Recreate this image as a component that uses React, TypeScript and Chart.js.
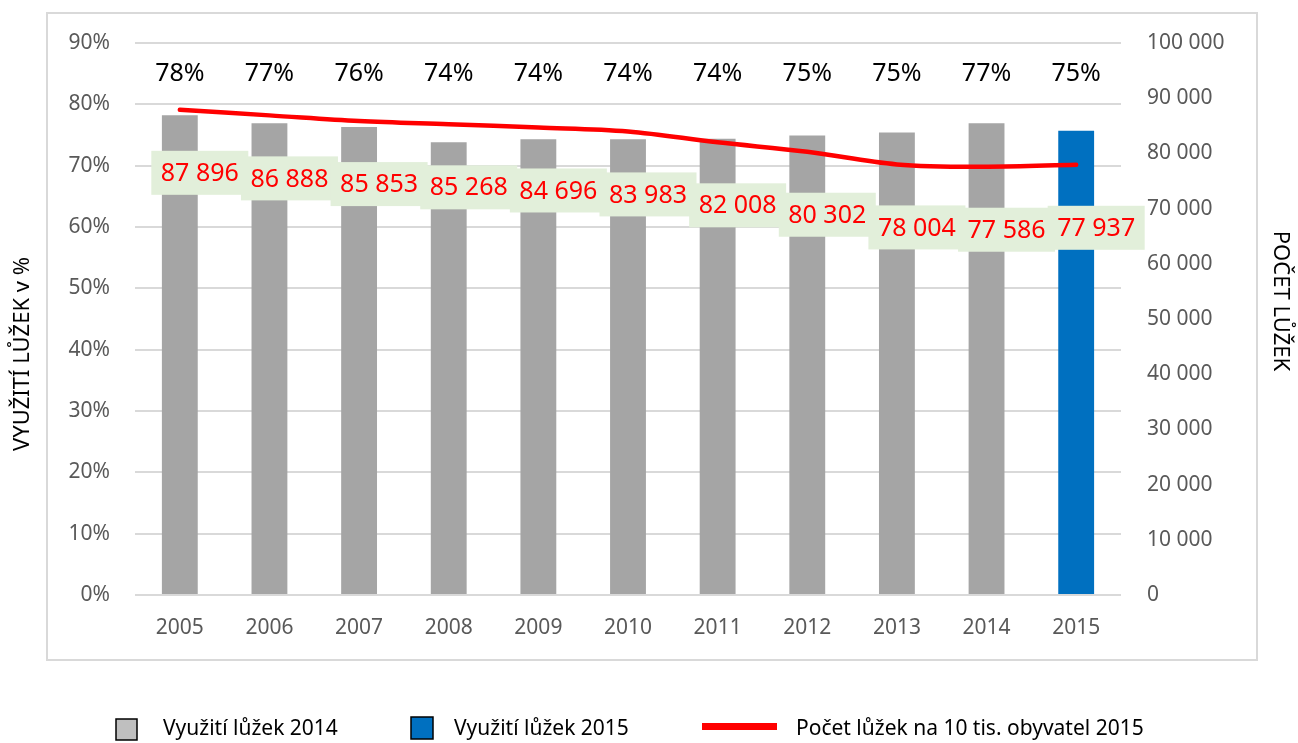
import React, { useEffect, useRef } from "react";
import { Chart, registerables } from "chart.js";

Chart.register(...registerables);

const years = ["2005", "2006", "2007", "2008", "2009", "2010", "2011", "2012", "2013", "2014", "2015"];
const utilization2014 = [78.2, 76.9, 76.3, 73.8, 74.3, 74.3, 74.4, 74.9, 75.4, 76.9, null];
const utilization2015 = [null, null, null, null, null, null, null, null, null, null, 75.7];
const utilizationLabels = ["78%", "77%", "76%", "74%", "74%", "74%", "74%", "75%", "75%", "77%", "75%"];
const bedCounts = [87896, 86888, 85853, 85268, 84696, 83983, 82008, 80302, 78004, 77586, 77937];
const leftTicks = [0, 10, 20, 30, 40, 50, 60, 70, 80, 90];
const rightTicks = [0, 10000, 20000, 30000, 40000, 50000, 60000, 70000, 80000, 90000, 100000];

const FONT = "'Noto Sans', 'DejaVu Sans', sans-serif";
const fmt = (v: number) => String(Math.round(v)).replace(/\B(?=(\d{3})+(?!\d))/g, " ");

const decorPlugin = {
  id: "decor",
  beforeDraw(chart: any) {
    const ctx = chart.ctx;
    ctx.save();
    ctx.fillStyle = "#ffffff";
    ctx.fillRect(0, 0, chart.width, chart.height);
    ctx.strokeStyle = "#d9d9d9";
    ctx.lineWidth = 2;
    ctx.strokeRect(47, 13, 1210, 647);
    ctx.restore();
  },
  afterDatasetsDraw(chart: any) {
    const ctx = chart.ctx;
    const xs = chart.scales.x;
    const yL = chart.scales.y;
    const yR = chart.scales.y1;
    ctx.save();
    // top percentage labels
    ctx.font = `25px ${FONT}`;
    ctx.fillStyle = "#000000";
    ctx.textAlign = "center";
    ctx.textBaseline = "middle";
    utilizationLabels.forEach((t, i) => {
      ctx.fillText(t, xs.getPixelForValue(i), yL.getPixelForValue(85));
    });
    // line data labels
    bedCounts.forEach((v, i) => {
      const px = xs.getPixelForValue(i) + 20;
      const py = yR.getPixelForValue(v) + 63;
      const w = 97, h = 44;
      ctx.fillStyle = "#e2efda";
      ctx.fillRect(px - w / 2, py - h / 2, w, h);
      ctx.fillStyle = "#ff0000";
      ctx.font = `25px ${FONT}`;
      ctx.fillText(fmt(v), px, py + 1);
    });
    ctx.restore();
  },
  afterDraw(chart: any) {
    const ctx = chart.ctx;
    ctx.save();
    // axis titles
    ctx.fillStyle = "#000000";
    ctx.font = `22px ${FONT}`;
    ctx.textAlign = "center";
    ctx.textBaseline = "middle";
    ctx.save();
    ctx.translate(23, 354);
    ctx.rotate(-Math.PI / 2);
    ctx.fillText("VYUŽITÍ LŮŽEK v %", 0, 0);
    ctx.restore();
    ctx.save();
    ctx.translate(1280, 301);
    ctx.rotate(Math.PI / 2);
    ctx.fillText("POČET LŮŽEK", 0, 0);
    ctx.restore();
    // legend
    const ly = 729;
    ctx.font = `21px ${FONT}`;
    ctx.textAlign = "left";
    ctx.fillStyle = "#bfbfbf";
    ctx.fillRect(116, 719, 21, 21);
    ctx.strokeStyle = "#000000";
    ctx.lineWidth = 1.5;
    ctx.strokeRect(116, 719, 21, 21);
    ctx.fillStyle = "#000000";
    ctx.fillText(chart.data.datasets[1].label, 163, ly);
    ctx.fillStyle = "#0070c0";
    ctx.fillRect(411, 717, 22, 22);
    ctx.strokeRect(411, 717, 22, 22);
    ctx.fillStyle = "#000000";
    ctx.fillText(chart.data.datasets[2].label, 454, ly);
    ctx.fillStyle = "#ff0000";
    ctx.fillRect(702, 723, 75, 7);
    ctx.fillStyle = "#000000";
    ctx.fillText(chart.data.datasets[0].label, 796, ly);
    ctx.restore();
  },
};

export default function App() {
  const ref = useRef<HTMLCanvasElement | null>(null);
  useEffect(() => {
    document.body.style.margin = "0";
    const canvas = ref.current!;
    const chart = new Chart(canvas, {
      type: "bar",
      data: {
        labels: years,
        datasets: [
          {
            type: "line",
            label: "Počet lůžek na 10 tis. obyvatel 2015",
            data: bedCounts,
            yAxisID: "y1",
            borderColor: "#ff0000",
            borderWidth: 4.5,
            pointRadius: 0,
            tension: 0.35,
            order: 0,
            borderCapStyle: "round",
          } as any,
          {
            type: "bar",
            label: "Využití lůžek 2014",
            data: utilization2014,
            yAxisID: "y",
            backgroundColor: "#a5a5a5",
            categoryPercentage: 1,
            barPercentage: 0.4,
            grouped: false,
            order: 1,
          } as any,
          {
            type: "bar",
            label: "Využití lůžek 2015",
            data: utilization2015,
            yAxisID: "y",
            backgroundColor: "#0070c0",
            categoryPercentage: 1,
            barPercentage: 0.4,
            grouped: false,
            order: 2,
          } as any,
        ],
      },
      options: {
        responsive: false,
        animation: false,
        devicePixelRatio: 1,
        layout: { padding: { top: 43, bottom: 88, left: 0, right: 0 } },
        plugins: { legend: { display: false }, tooltip: { enabled: false } },
        scales: {
          x: {
            grid: { display: false, drawTicks: false },
            border: { display: false },
            ticks: { color: "#595959", font: { family: FONT, size: 21 }, padding: 20 },
            afterFit: (s: any) => { s.height = 60; },
          },
          y: {
            position: "left",
            min: 0,
            max: 90,
            afterBuildTicks: (s: any) => { s.ticks = leftTicks.map((v) => ({ value: v })); },
            grid: { color: "#d9d9d9", lineWidth: 2, drawTicks: false },
            border: { display: false },
            ticks: { color: "#595959", font: { family: FONT, size: 21 }, padding: 25, callback: (v: any) => v + "%" },
            afterFit: (s: any) => { s.width = 135; },
          },
          y1: {
            position: "right",
            min: 0,
            max: 100000,
            afterBuildTicks: (s: any) => { s.ticks = rightTicks.map((v) => ({ value: v })); },
            grid: { display: false, drawTicks: false },
            border: { display: false },
            ticks: { color: "#595959", font: { family: FONT, size: 21 }, padding: 26, callback: (v: any) => fmt(Number(v)) },
            afterFit: (s: any) => { s.width = 177; },
          },
        },
      },
      plugins: [decorPlugin],
    });
    return () => chart.destroy();
  }, []);
  return (
    <div style={{ position: "absolute", left: 0, top: 0, width: 1298, height: 743 }}>
      <canvas ref={ref} width={1298} height={743} style={{ width: 1298, height: 743, display: "block" }} />
    </div>
  );
}
